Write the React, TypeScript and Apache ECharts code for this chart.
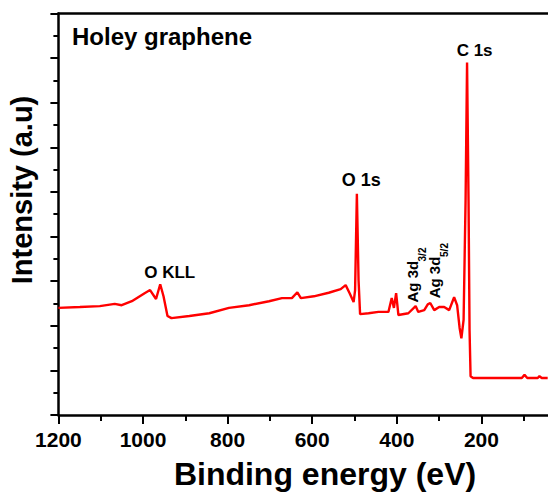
import React, { useEffect, useRef } from "react";
import * as echarts from "echarts";

// Binding energy (eV) and intensity (a.u.)
const energies = [
  1200, 1149.2, 1102.1, 1066.8, 1050.4, 1026.4, 996.2, 983.3, 969.2, 959.3, 951.5, 942.1, 932.7,
  890.4, 843.3, 796.7, 749.2, 702.1, 671.5, 648, 635.1, 626.8, 596.2, 560.9, 532.7,
  520.9, 511.5, 502.1, 498.6, 494.4, 490.4, 486.8, 466.8, 443.3, 419.8, 412, 406.8,
  401.6, 396.2, 372.7, 355.5, 349.2, 335.1, 326.8, 320.9, 311.5, 299.8, 288, 276.2, 264.5,
  257.4, 251.5, 247.3, 242.1, 237.4, 233.9, 230.4, 228, 225.6, 219.8, 161, 104.5,
  98.1, 91.5, 66.8, 62.8, 57.4, 43.3,
];
const intensities = [
  2.40, 2.42, 2.44, 2.49, 2.46, 2.55, 2.73, 2.80, 2.60, 2.93, 2.66, 2.22, 2.17,
  2.22, 2.28, 2.40, 2.46, 2.55, 2.62, 2.62, 2.75, 2.62, 2.66, 2.74, 2.82,
  2.91, 2.73, 2.53, 2.80, 4.96, 3.02, 2.26, 2.28, 2.31, 2.31, 2.62, 2.40,
  2.73, 2.24, 2.28, 2.44, 2.31, 2.35, 2.48, 2.51, 2.35, 2.42, 2.42, 2.35, 2.64,
  2.46, 1.95, 1.72, 2.13, 4.81, 7.90, 4.81, 1.90, 0.87, 0.83, 0.83, 0.83,
  0.90, 0.83, 0.83, 0.87, 0.83, 0.83,
];
const xTickLabels = ["", "200", "400", "600", "800", "1000", "1200"];

const FONT = "'Liberation Sans', Arial, sans-serif";

export default function App() {
  const ref = useRef<HTMLDivElement>(null);
  useEffect(() => {
    if (!ref.current) return;
    const chart = echarts.init(ref.current, undefined, { renderer: "svg" });
    const data = energies.map((e, i) => [e, intensities[i]]);
    const axisLine = { lineStyle: { color: "#000", width: 2.5 } };
    chart.setOption({
      animation: false,
      grid: { left: 58.4, top: 13.4, right: 0.6, bottom: 78 },
      xAxis: [
        {
          type: "value",
          inverse: true,
          min: 0,
          max: 1200,
          interval: 200,
          axisLine: { ...axisLine, onZero: false },
          axisTick: { length: 9, lineStyle: { color: "#000", width: 2 } },
          minorTick: { show: true, splitNumber: 2, length: 6, lineStyle: { color: "#000", width: 2 } },
          splitLine: { show: false },
          axisLabel: {
            color: "#000",
            fontFamily: FONT,
            fontWeight: "bold",
            fontSize: 21,
            margin: 14,
            formatter: (v: number) => xTickLabels[Math.round(v / 200)],
          },
        },
        {
          type: "value",
          inverse: true,
          position: "top",
          min: 0,
          max: 1200,
          axisLine: { ...axisLine, onZero: false },
          axisTick: { show: false },
          axisLabel: { show: false },
          splitLine: { show: false },
        },
      ],
      yAxis: {
        type: "value",
        min: 0,
        max: 9,
        interval: 1,
        axisLine: { ...axisLine, onZero: false },
        axisTick: { length: 8, lineStyle: { color: "#000", width: 2 } },
        minorTick: { show: true, splitNumber: 2, length: 5, lineStyle: { color: "#000", width: 2 } },
        splitLine: { show: false },
        axisLabel: { show: false },
      },
      series: [
        {
          type: "line",
          data,
          showSymbol: false,
          lineStyle: { color: "#ff0000", width: 2.4 },
          itemStyle: { color: "#ff0000" },
        },
      ],
      graphic: [
        { type: "text", x: 72, y: 36.5, style: { text: "Holey graphene", font: `bold 24px ${FONT}`, fill: "#000", textAlign: "left", textVerticalAlign: "middle" } },
        { type: "text", x: 474.6, y: 50, style: { text: "C 1s", font: `bold 17px ${FONT}`, fill: "#000", textAlign: "center", textVerticalAlign: "middle" } },
        { type: "text", x: 361.3, y: 180, style: { text: "O 1s", font: `bold 18px ${FONT}`, fill: "#000", textAlign: "center", textVerticalAlign: "middle" } },
        { type: "text", x: 169.7, y: 272, style: { text: "O KLL", font: `bold 17px ${FONT}`, fill: "#000", textAlign: "center", textVerticalAlign: "middle" } },
        { type: "text", x: 412.5, y: 281.7, rotation: Math.PI / 2, style: { text: "Ag 3d", font: `bold 15px ${FONT}`, fill: "#000", textAlign: "center", textVerticalAlign: "middle" } },
        { type: "text", x: 422, y: 254.5, rotation: Math.PI / 2, style: { text: "3/2", font: `bold 10px ${FONT}`, fill: "#000", textAlign: "center", textVerticalAlign: "middle" } },
        { type: "text", x: 434, y: 277.5, rotation: Math.PI / 2, style: { text: "Ag 3d", font: `bold 15px ${FONT}`, fill: "#000", textAlign: "center", textVerticalAlign: "middle" } },
        { type: "text", x: 444, y: 250, rotation: Math.PI / 2, style: { text: "5/2", font: `bold 10px ${FONT}`, fill: "#000", textAlign: "center", textVerticalAlign: "middle" } },
        { type: "text", x: 325, y: 474, style: { text: "Binding energy (eV)", font: `bold 32px ${FONT}`, fill: "#000", textAlign: "center", textVerticalAlign: "middle" } },
        { type: "text", x: 22, y: 190, rotation: Math.PI / 2, style: { text: "Intensity (a.u)", font: `bold 29px ${FONT}`, fill: "#000", textAlign: "center", textVerticalAlign: "middle" } },
      ],
    });
    return () => chart.dispose();
  }, []);
  return (
    <div style={{ position: "absolute", left: 0, top: 0, width: 548, height: 493, overflow: "hidden", background: "#fff" }}>
      <div ref={ref} style={{ width: 569, height: 493 }} />
    </div>
  );
}
